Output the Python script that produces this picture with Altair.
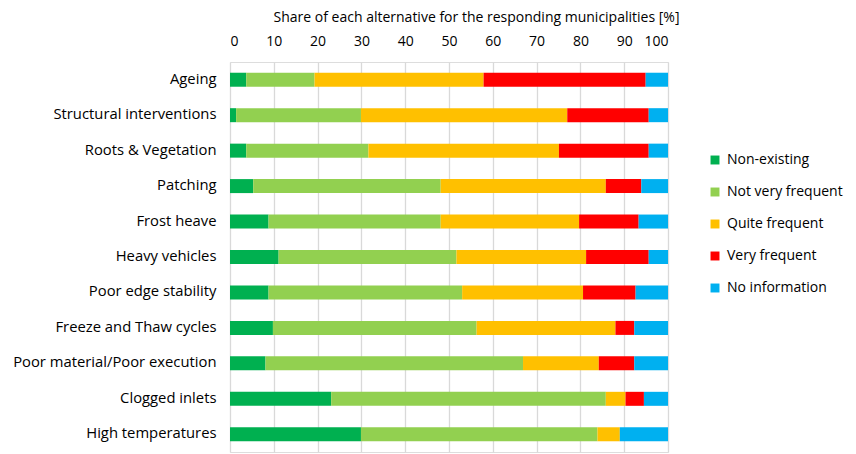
import altair as alt
import pandas as pd

causes = ["Ageing", "Structural interventions", "Roots & Vegetation", "Patching",
          "Frost heave", "Heavy vehicles", "Poor edge stability", "Freeze and Thaw cycles",
          "Poor material/Poor execution", "Clogged inlets", "High temperatures"]
categories = ["Non-existing", "Not very frequent", "Quite frequent", "Very frequent", "No information"]
colors = ["#00B050", "#92D050", "#FFC000", "#FF0000", "#00B0F0"]

non_existing = [3.7, 1.4, 3.7, 5.3, 8.8, 11.1, 8.8, 9.8, 8.1, 23.1, 29.9]
not_very_frequent = [15.6, 28.5, 27.9, 42.8, 39.3, 40.6, 44.2, 46.5, 58.8, 62.7, 54.0]
quite_frequent = [38.6, 47.1, 43.5, 37.7, 31.6, 29.6, 27.6, 31.7, 17.3, 4.5, 5.1]
very_frequent = [37.0, 18.6, 20.5, 8.1, 13.6, 14.3, 12.0, 4.3, 8.1, 4.2, 0.0]
no_information = [5.1, 4.4, 4.4, 6.1, 6.7, 4.4, 7.4, 7.7, 7.7, 5.5, 11.0]

series = [non_existing, not_very_frequent, quite_frequent, very_frequent, no_information]
rows = []
for ci, (cat, vals) in enumerate(zip(categories, series)):
    for cause, v in zip(causes, vals):
        rows.append({"cause": cause, "category": cat, "value": v, "order": ci})
df = pd.DataFrame(rows)

FONT = "Open Sans"

chart = alt.Chart(df).mark_bar(size=14).encode(
    y=alt.Y("cause:N", sort=causes, title=None,
            axis=alt.Axis(ticks=False, labelPadding=14, labelFontSize=14.8,
                          labelColor="#000000", domain=False, labelLimit=300)),
    x=alt.X("value:Q", stack="zero",
            scale=alt.Scale(domain=[0, 100], nice=False),
            axis=alt.Axis(orient="top", values=list(range(0, 101, 10)), ticks=False,
                          labelPadding=14, labelFontSize=14, labelColor="#000000",
                          domain=False, gridColor="#d9d9d9", gridWidth=1.3,
                          title="Share of each alternative for the responding municipalities [%]",
                          titleFontSize=14, titleFontWeight="normal", titleColor="#000000",
                          titleX=246, titleY=-45, titleAlign="center", titleBaseline="middle")),
    color=alt.Color("category:N", sort=categories,
                    scale=alt.Scale(domain=categories, range=colors),
                    legend=alt.Legend(title=None, orient="none", legendX=478, legendY=91,
                                      symbolType="square", symbolSize=80, symbolStrokeWidth=0,
                                      labelFontSize=14, labelColor="#000000", rowPadding=18,
                                      labelOffset=5)),
    order=alt.Order("order:Q", sort="ascending"),
).properties(
    width=438, height=390,
    autosize=alt.AutoSizeParams(type="none"),
    padding={"left": 222, "top": 54, "right": 180, "bottom": 2},
).configure_view(
    stroke="#595959", strokeWidth=1.5
).configure(font=FONT)

chart.save("out.html", embed_options={"renderer": "svg", "actions": False})
